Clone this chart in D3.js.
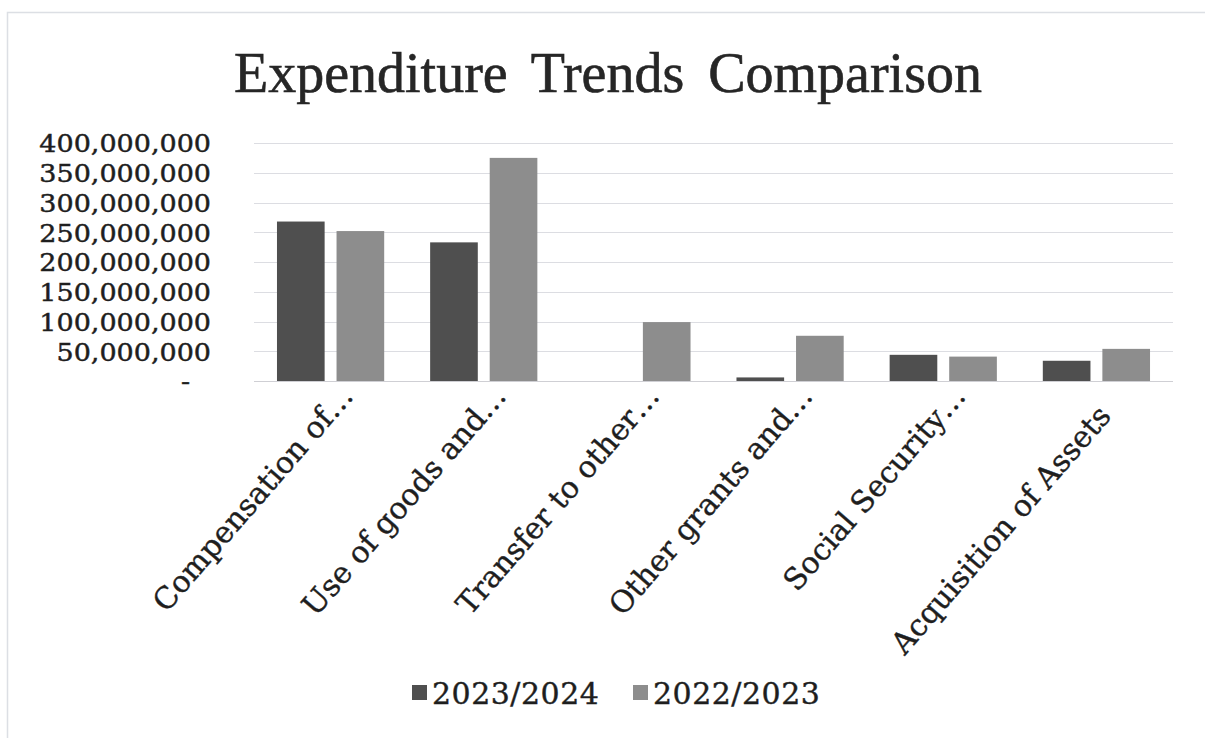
<!DOCTYPE html>
<html>
<head>
<meta charset="utf-8">
<script src="https://cdn.jsdelivr.net/npm/d3@7"></script>
<style>
  body { margin: 0; background: #fff; }
  svg { display: block; }
</style>
</head>
<body>
<svg id="chart" width="1205" height="738"></svg>
<script>
// Expenditure by category for two fiscal years
const categories = [
  "Compensation of…",
  "Use of goods and…",
  "Transfer to other…",
  "Other grants and…",
  "Social Security…",
  "Acquisition of Assets"
];
const seriesNames = ["2023/2024", "2022/2023"];
const values2023_24 = [268000000, 233000000, 0, 6000000, 44000000, 34000000];
const values2022_23 = [252000000, 375000000, 99000000, 76000000, 41000000, 54000000];
const yTickValues = [0, 50000000, 100000000, 150000000, 200000000, 250000000, 300000000, 350000000, 400000000];
const seriesColors = ["#4f4f4f", "#8d8d8d"];

const svg = d3.select("#chart");
const W = 1205, H = 738;
const plot = { left: 254, right: 1173, top: 143, bottom: 381 };
const serif = "'DejaVu Serif', 'Liberation Serif', serif";
const ink = "#1e1e1e";

// chart frame
svg.append("rect")
  .attr("x", 7.5).attr("y", 12.5)
  .attr("width", W + 10).attr("height", H + 10)
  .attr("fill", "#fff").attr("stroke", "#dcdfe4").attr("stroke-width", 1.5);

// title
svg.append("text")
  .attr("x", 608).attr("y", 92)
  .attr("text-anchor", "middle")
  .attr("font-family", "'Liberation Serif', serif")
  .attr("font-size", 56)
  .attr("fill", "#262626")
  .attr("stroke", "#262626").attr("stroke-width", 0.6)
  .attr("word-spacing", 10)
  .text("Expenditure Trends Comparison");

const rows = categories.map((c, i) => ({ cat: c, vals: [values2023_24[i], values2022_23[i]] }));

const x0 = d3.scaleBand()
  .domain(categories)
  .range([plot.left, plot.right])
  .paddingInner(0.3)
  .paddingOuter(0.15);

const x1 = d3.scaleBand()
  .domain(seriesNames)
  .range([0, x0.bandwidth()])
  .paddingInner(0.2);

const y = d3.scaleLinear()
  .domain([0, 400000000])
  .range([plot.bottom, plot.top]);

// horizontal gridlines
svg.append("g")
  .selectAll("line")
  .data(yTickValues)
  .join("line")
  .attr("x1", plot.left).attr("x2", plot.right)
  .attr("y1", d => Math.round(y(d)) + 0.5)
  .attr("y2", d => Math.round(y(d)) + 0.5)
  .attr("stroke", d => d === 0 ? "#cfcfd4" : "#dcdde2")
  .attr("stroke-width", 1.2);

// y axis labels (accounting style, zero shown as a dash)
const fmt = d3.format(",");
const yAxis = d3.axisLeft(y)
  .tickValues(yTickValues)
  .tickSize(0)
  .tickPadding(0)
  .tickFormat(d => d === 0 ? "-" : fmt(d));

const yg = svg.append("g")
  .attr("transform", `translate(211,0)`)
  .call(yAxis);
yg.select(".domain").remove();
yg.selectAll("text")
  .attr("font-family", serif)
  .attr("font-size", 27)
  .attr("fill", ink)
  .attr("stroke", ink).attr("stroke-width", 0.5)
  .attr("x", d => d === 0 ? -21 : 0)
  .attr("y", 0)
  .attr("dy", "0.36em")
  .attr("transform", "scale(1,0.9)");

// bars
const groups = svg.append("g")
  .selectAll("g")
  .data(rows)
  .join("g")
  .attr("transform", d => `translate(${x0(d.cat)},0)`);

groups.selectAll("rect")
  .data(d => d.vals.map((v, j) => ({ key: seriesNames[j], value: v, j })))
  .join("rect")
  .attr("x", d => x1(d.key))
  .attr("width", x1.bandwidth())
  .attr("y", d => y(d.value))
  .attr("height", d => y(0) - y(d.value))
  .attr("fill", d => seriesColors[d.j]);

// category labels, rotated; full-length labels sit a little lower than truncated ones
const xAxis = d3.axisBottom(x0).tickSize(0).tickPadding(0);
const xg = svg.append("g")
  .attr("transform", `translate(0,${plot.bottom})`)
  .call(xAxis);
xg.select(".domain").remove();
xg.selectAll(".tick text")
  .attr("font-family", serif)
  .attr("font-size", 30)
  .attr("fill", ink)
  .attr("stroke", ink).attr("stroke-width", 0.4)
  .attr("text-anchor", "end")
  .attr("y", 0)
  .attr("dy", 0)
  .attr("transform", d => d.endsWith("…")
    ? "translate(24,16) rotate(-49)"
    : "translate(16,36) rotate(-49)");

// legend
const legend = svg.append("g").attr("transform", "translate(412,693)");
const legendX = [0, 221];
seriesNames.forEach((name, i) => {
  const g = legend.append("g").attr("transform", `translate(${legendX[i]},0)`);
  g.append("rect")
    .attr("x", 0).attr("y", -8)
    .attr("width", 15).attr("height", 15)
    .attr("fill", seriesColors[i]);
  g.append("text")
    .attr("x", 20).attr("y", 0)
    .attr("dy", "0.36em")
    .attr("font-family", serif)
    .attr("font-size", 30)
    .attr("letter-spacing", 0.5)
    .attr("fill", ink)
    .attr("stroke", ink).attr("stroke-width", 0.4)
    .text(name);
});
</script>
</body>
</html>
